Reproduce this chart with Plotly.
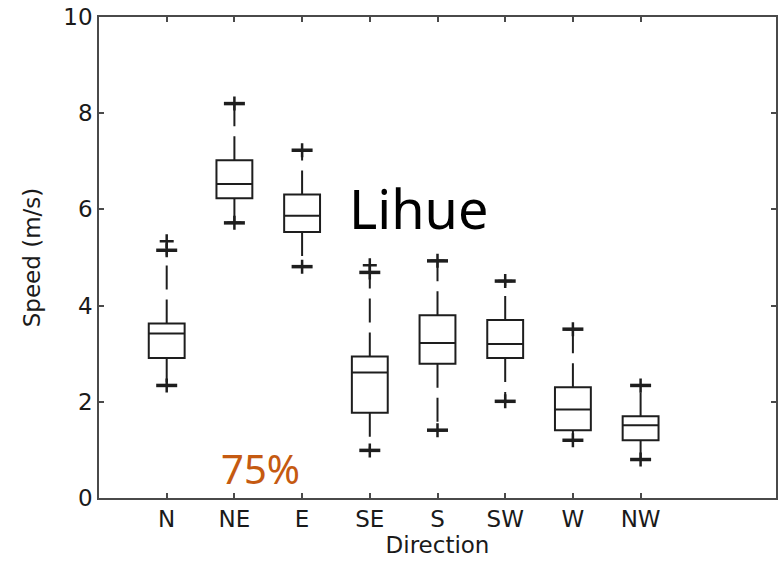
import plotly.graph_objects as go

directions = ["N", "NE", "E", "SE", "S", "SW", "W", "NW"]
q1 = [2.91, 6.23, 5.53, 1.77, 2.79, 2.91, 1.41, 1.20]
medians = [3.42, 6.53, 5.87, 2.61, 3.22, 3.20, 1.84, 1.51]
q3 = [3.63, 7.02, 6.31, 2.94, 3.80, 3.70, 2.30, 1.70]
lower_whisker = [2.34, 5.72, 4.81, 0.99, 1.41, 2.01, 1.20, 0.80]
upper_whisker = [5.15, 8.20, 7.23, 4.69, 4.93, 4.51, 3.51, 2.34]
outlier_dirs = ["N", "SE"]
outlier_vals = [5.34, 4.84]

y_ticks = [0, 2, 4, 6, 8, 10]

INK = "#1e1e1e"
AX = "#4a4a4a"
FONT = "DejaVu Sans"

fig = go.Figure()

# boxes (whiskers drawn separately as dashed lines)
fig.add_trace(go.Box(
    x=directions, q1=q1, median=medians, q3=q3,
    lowerfence=q1, upperfence=q3,
    width=0.53, whiskerwidth=0,
    fillcolor="rgba(255,255,255,0)",
    line=dict(color=INK, width=2),
    boxpoints=False, showlegend=False, hoverinfo="skip",
))

# dashed whiskers
wx, wy = [], []
for d, a, b, lo, hi in zip(directions, q1, q3, lower_whisker, upper_whisker):
    wx += [d, d, None, d, d, None]
    wy += [b, hi, None, a, lo, None]
fig.add_trace(go.Scatter(
    x=wx, y=wy, mode="lines",
    line=dict(color=INK, width=2, dash="24px,10px"),
    showlegend=False, hoverinfo="skip",
))

# whisker end caps
fig.add_trace(go.Scatter(
    x=directions + directions, y=upper_whisker + lower_whisker, mode="markers",
    marker=dict(symbol="line-ew", size=15, line=dict(color=INK, width=3.5)),
    showlegend=False, hoverinfo="skip",
))
# '+' markers at whisker ends and outliers
fig.add_trace(go.Scatter(
    x=directions + directions + outlier_dirs,
    y=upper_whisker + lower_whisker + outlier_vals, mode="markers",
    marker=dict(symbol="cross-thin", size=10, line=dict(color=INK, width=2.5)),
    showlegend=False, hoverinfo="skip",
))

fig.add_annotation(text="Lihue", xref="paper", yref="paper", x=0.3667, y=0.602,
                   xanchor="left", yanchor="middle", showarrow=False,
                   font=dict(family="Noto Sans", size=54, color="#000000"))
fig.add_annotation(text="75%", xref="paper", yref="paper", x=0.177, y=0.0,
                   xanchor="left", yanchor="bottom", showarrow=False,
                   font=dict(family="Noto Sans", size=40, color="#C55A11"))

fig.update_layout(
    width=782, height=573,
    margin=dict(l=99, r=4, t=15, b=75),
    paper_bgcolor="white", plot_bgcolor="white",
    font=dict(family=FONT, size=23, color="#1a1a1a"),
)
fig.update_xaxes(
    type="category", categoryorder="array", categoryarray=directions,
    range=[-1, 9],
    showline=True, linecolor=AX, linewidth=1.5, mirror="ticks",
    ticks="inside", ticklen=5, tickcolor=AX, tickwidth=1.5,
    showgrid=False, zeroline=False,
    title=dict(text="Direction", standoff=4, font=dict(size=23)),
    tickfont=dict(size=23),
)
fig.update_yaxes(
    range=[0, 10], tickvals=y_ticks,
    showline=True, linecolor=AX, linewidth=1.5, mirror="ticks",
    ticks="inside", ticklen=5, tickcolor=AX, tickwidth=1.5,
    showgrid=False, zeroline=False,
    title=dict(text="Speed (m/s)", standoff=16, font=dict(size=23)),
    tickfont=dict(size=23),
)

fig.write_html("out.html")
